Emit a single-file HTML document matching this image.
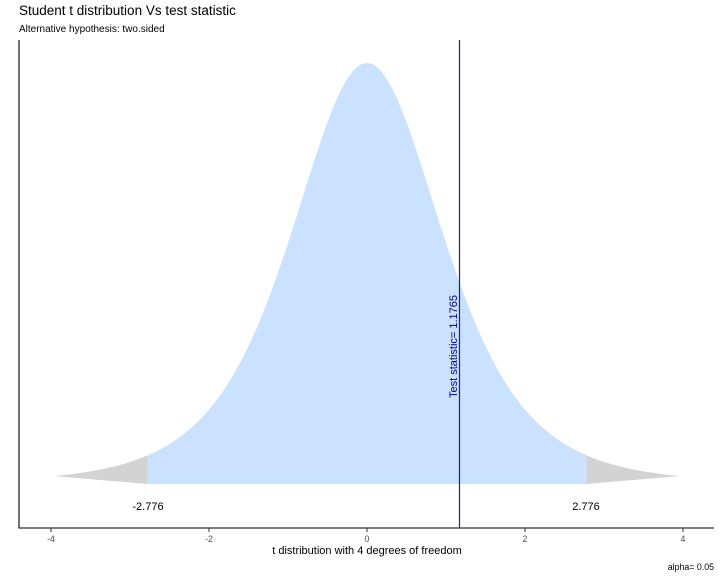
<!DOCTYPE html>
<html><head><meta charset="utf-8"><style>
body{margin:0;background:#fff;}
svg text{font-family:"Liberation Sans",sans-serif;}
</style></head><body>
<svg id="s" width="720" height="576" xmlns="http://www.w3.org/2000/svg">
<text x="19" y="15" font-size="13.5" fill="#000">Student t distribution Vs test statistic</text>
<text x="19" y="32" font-size="10" fill="#000">Alternative hypothesis: two.sided</text>
<path id="lt" fill="#d3d3d3"/>
<path id="rt" fill="#d3d3d3"/>
<path id="mid" fill="#cae1ff"/>
<line x1="459.5" y1="40" x2="459.5" y2="528" stroke="#20208a" stroke-width="1.2"/>
<text transform="translate(457,398) rotate(-90)" font-size="11" fill="#00008b">Test statistic= 1.1765</text>
<text x="148" y="510" font-size="11" text-anchor="middle">-2.776</text>
<text x="586" y="510" font-size="11" text-anchor="middle">2.776</text>
<line x1="19" y1="40" x2="19" y2="528.5" stroke="#000" stroke-width="1.1"/>
<line x1="19" y1="528" x2="714" y2="528" stroke="#000" stroke-width="1.1"/>
<g id="ticks" stroke="#333" stroke-width="1"></g>
<g font-size="8.8" fill="#4d4d4d" text-anchor="middle">
<text x="51" y="542">-4</text><text x="209" y="542">-2</text><text x="367" y="542">0</text><text x="525" y="542">2</text><text x="683" y="542">4</text>
</g>
<text x="367" y="554" font-size="11" text-anchor="middle">t distribution with 4 degrees of freedom</text>
<text x="714" y="570" font-size="8.8" text-anchor="end">alpha= 0.05</text>
</svg>
<script>
var X=function(t){return 367+79*t}, Y=function(t){return 484-1122.7*0.375*Math.pow(1+t*t/4,-2.5)};
function pts(a,b){var d="";for(var i=0;i<=200;i++){var t=a+(b-a)*i/200;d+=(i?"L":"")+X(t).toFixed(2)+","+Y(t).toFixed(2);}return d;}
document.getElementById("lt").setAttribute("d","M"+pts(-3.95,-2.776)+"L"+X(-2.776)+",484Z");
document.getElementById("rt").setAttribute("d","M"+X(2.776)+",484L"+pts(2.776,3.95)+"Z");
document.getElementById("mid").setAttribute("d","M"+X(-2.776)+",484L"+pts(-2.776,2.776)+"L"+X(2.776)+",484Z");
var g=document.getElementById("ticks");[-4,-2,0,2,4].forEach(function(t){var l=document.createElementNS("http://www.w3.org/2000/svg","line");l.setAttribute("x1",X(t));l.setAttribute("x2",X(t));l.setAttribute("y1",528);l.setAttribute("y2",532);g.appendChild(l);});
</script>
</body></html>
